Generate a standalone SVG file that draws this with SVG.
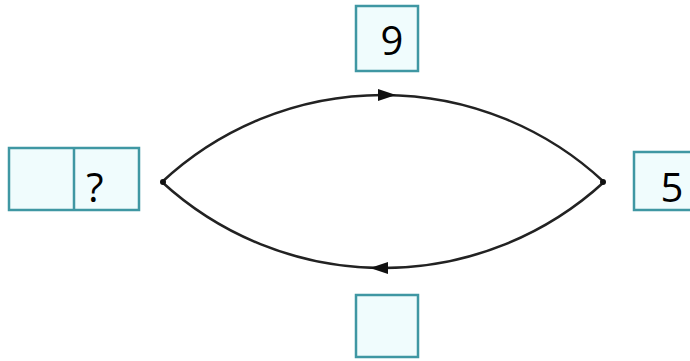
<svg xmlns="http://www.w3.org/2000/svg" width="690" height="361" viewBox="0 0 690 361">
<style>
.box{fill:#f0fcfd;stroke:#3f97a3;stroke-width:2.5}
.t{font-family:"Open Sans","Liberation Sans",sans-serif;font-size:40px;fill:#000;text-anchor:middle}
.c{fill:none;stroke:#222;stroke-width:2.5}
</style>
<rect width="690" height="361" fill="#fff"/>
<g id="left">
<rect class="box" x="9" y="148" width="130" height="62"/>
<line x1="74" y1="148" x2="74" y2="210" stroke="#3f97a3" stroke-width="2.5"/>
<text class="t" x="95" y="202" font-size="38">?</text>
</g>
<g id="top">
<rect class="box" x="356" y="6" width="62" height="65"/>
<text class="t" x="392" y="55">9</text>
</g>
<g id="bottom">
<rect class="box" x="356" y="295" width="62" height="62"/>
</g>
<g id="right">
<rect class="box" x="634" y="152" width="62" height="58"/>
<text class="t" x="672" y="202">5</text>
</g>
<g id="connectors">
<path class="c" d="M162,182 A324,324 0 0 1 604,182"/>
<path class="c" d="M604,182 A327,327 0 0 1 162,182"/>
<polygon points="396,95 378,89 378,101" fill="#111"/>
<polygon points="370,268 388,262 388,274" fill="#111"/>
<circle cx="163" cy="182" r="3" fill="#111"/>
<circle cx="603" cy="182" r="3" fill="#111"/>
</g>
</svg>
